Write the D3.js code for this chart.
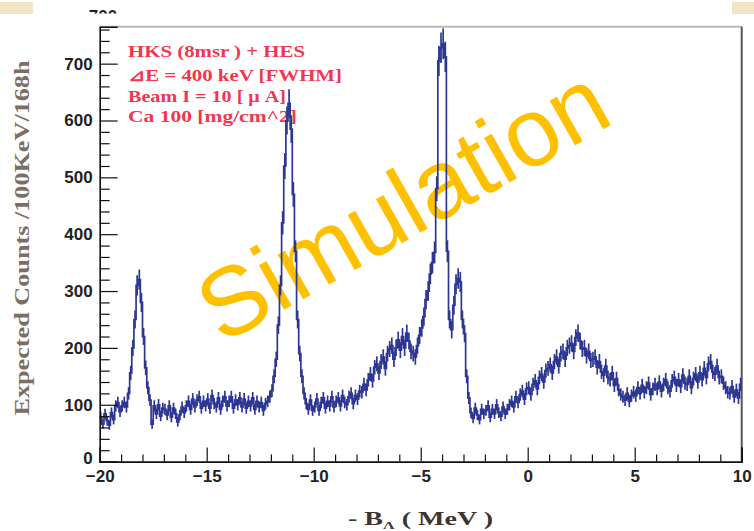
<!DOCTYPE html>
<html><head><meta charset="utf-8">
<script src="https://cdn.jsdelivr.net/npm/d3@7"></script>
<style>body{margin:0;background:#fff}svg{display:block}</style>
</head><body>
<script>
// ---- data ----
const binStart = -20;      // MeV
const binWidth = 0.1;      // MeV (100 keV bins)
const counts = [
  78, 66, 84, 72, 64, 86, 74, 98, 104, 88,
  98, 104, 96, 120, 156, 200, 250, 310, 320, 280,
  220, 165, 130, 108, 66, 98, 84, 100, 80, 94,
  92, 82, 98, 78, 94, 84, 70, 82, 96, 86,
  98, 106, 92, 110, 96, 108, 114, 94, 106, 98,
  110, 94, 116, 102, 96, 112, 92, 106, 114, 98,
  106, 114, 94, 108, 100, 112, 96, 110, 94, 106,
  98, 112, 92, 106, 96, 104, 90, 102, 106, 114,
  125, 150, 180, 240, 310, 420, 520, 600, 630, 585,
  470, 370, 250, 190, 150, 120, 102, 92, 108, 90,
  96, 110, 90, 104, 112, 94, 106, 98, 114, 96,
  106, 112, 98, 116, 104, 100, 114, 120, 102, 116,
  110, 124, 122, 136, 126, 144, 154, 142, 166, 172,
  156, 176, 184, 164, 190, 198, 204, 180, 200, 214,
  196, 220, 200, 226, 212, 194, 190, 184, 204, 222,
  235, 255, 285, 300, 330, 350, 368, 480, 705, 728,
  735, 712, 370, 250, 232, 275, 312, 322, 316, 250,
  225, 150, 112, 86, 76, 94, 82, 74, 92, 84,
  90, 98, 78, 92, 84, 100, 86, 80, 96, 84,
  92, 100, 106, 96, 114, 104, 118, 124, 110, 128,
  130, 118, 136, 142, 128, 148, 154, 140, 160, 164,
  170, 156, 176, 184, 168, 190, 194, 180, 200, 204,
  208, 194, 218, 226, 212, 198, 200, 186, 194, 178,
  180, 184, 166, 176, 158, 152, 168, 148, 144, 156,
  134, 146, 126, 118, 114, 108, 120, 106, 116, 122,
  116, 130, 120, 134, 122, 130, 138, 118, 128, 136,
  128, 140, 124, 136, 144, 130, 124, 142, 148, 134,
  144, 132, 152, 138, 136, 150, 130, 146, 154, 140,
  156, 144, 164, 148, 172, 176, 158, 154, 168, 148,
  150, 138, 130, 122, 120, 132, 114, 126, 112, 136
];
const xDomain = [-20, 10];
const yDomain = [0, 765];
const xMajorTicks = [-20, -15, -10, -5, 0, 5, 10];
const yMajorTicks = [0, 100, 200, 300, 400, 500, 600, 700];
const legendLines = ["HKS (8msr ) + HES", "\u22BFE = 400 keV [FWHM]", "Beam I = 10 [ \u03BC A]", "Ca 100 [mg/cm^2]"];
const yTitle = "Expected Counts  /100KeV/168h";
const watermark = "Simulation";

// ---- layout ----
const W = 754, H = 531;
const L = 99.7, R = 741.7, T = 26.7, B = 461.6;

const svg = d3.select("body").append("svg").attr("width", W).attr("height", H);

const x = d3.scaleLinear().domain(xDomain).range([L, R]);
const y = d3.scaleLinear().domain(yDomain).range([B, T]);

// decorative beige corners
svg.append("rect").attr("x", 0).attr("y", 2).attr("width", 33).attr("height", 12).attr("fill", "#f1e4c3");
svg.append("rect").attr("x", 732).attr("y", 2).attr("width", 22).attr("height", 12).attr("fill", "#f1e4c3");

// clipped stray label at very top
svg.append("clipPath").attr("id", "topclip").append("rect").attr("x", 80).attr("y", 0).attr("width", 50).attr("height", 13.5);
svg.append("text").attr("x", 103).attr("y", 22).attr("text-anchor", "middle")
  .attr("font-family", "Liberation Sans, Arial, sans-serif").attr("font-weight", "bold").attr("font-size", 17)
  .attr("fill", "#222").attr("clip-path", "url(#topclip)").text("700");

// frame (top / right)
svg.append("line").attr("x1", L).attr("x2", R).attr("y1", T).attr("y2", T).attr("stroke", "#b8b8b8").attr("stroke-width", 2);
svg.append("line").attr("x1", R).attr("x2", R).attr("y1", T).attr("y2", B).attr("stroke", "#555").attr("stroke-width", 2);

// watermark
svg.append("text")
  .attr("transform", "translate(402,203) rotate(-29.5)")
  .attr("text-anchor", "middle").attr("dy", "0.36em")
  .attr("font-family", "Liberation Sans, Arial, sans-serif").attr("font-size", 97)
  .attr("fill", "#ffc000").text(watermark);

// legend text
const legBase = [57.3, 81, 101.7, 122];
const legLen = [177, 214, 158, 169];
svg.append("g").selectAll("text").data(legendLines).join("text")
  .attr("x", 128).attr("y", (d, i) => legBase[i])
  .attr("textLength", (d, i) => legLen[i]).attr("lengthAdjust", "spacingAndGlyphs")
  .attr("font-family", "Liberation Serif, Times New Roman, serif").attr("font-weight", "bold").attr("font-size", 17)
  .attr("fill", "#f2364e").text(d => d);

// histogram
const bins = counts.map((c, i) => ({x0: binStart + i * binWidth, x1: binStart + (i + 1) * binWidth, c}));
const pts = [];
bins.forEach(b => { pts.push([b.x0, b.c]); pts.push([b.x1, b.c]); });
const line = d3.line().x(d => x(d[0])).y(d => y(d[1]));
const hcol = "#2d3793";
svg.append("path").attr("d", line(pts)).attr("fill", "none").attr("stroke", hcol).attr("stroke-width", 1.7);
svg.append("g").selectAll("line").data(bins).join("line")
  .attr("x1", d => x((d.x0 + d.x1) / 2)).attr("x2", d => x((d.x0 + d.x1) / 2))
  .attr("y1", d => y(d.c - Math.sqrt(d.c))).attr("y2", d => y(d.c + Math.sqrt(d.c)))
  .attr("stroke", hcol).attr("stroke-width", 1.7);

// axes
const tickFont = g => g.selectAll("text")
  .attr("font-family", "Liberation Sans, Arial, sans-serif").attr("font-weight", "bold")
  .attr("font-size", 17).attr("fill", "#222");

const yMinor = d3.range(0, 761, 20).filter(v => v % 100 !== 0);
svg.append("g").attr("transform", `translate(${L},0)`)
  .call(d3.axisLeft(y).tickValues(yMinor).tickSize(-10).tickFormat(""))
  .call(g => g.select(".domain").remove())
  .call(g => g.selectAll("line").attr("stroke", "#111").attr("stroke-width", 1.2));
svg.append("g").attr("transform", `translate(${L},0)`)
  .call(d3.axisLeft(y).tickValues(yMajorTicks).tickSize(-18).tickPadding(7).tickFormat(d3.format("d")))
  .call(g => g.select(".domain").attr("stroke", "#111").attr("stroke-width", 1.6))
  .call(g => g.selectAll("line").attr("stroke", "#111").attr("stroke-width", 1.2))
  .call(tickFont)
  .call(g => g.selectAll(".tick").filter(d => d === 0).select("text").attr("dy", "0.1em"));

const xMinor = d3.range(-20, 10.01, 1).filter(v => v % 5 !== 0);
svg.append("g").attr("transform", `translate(0,${B})`)
  .call(d3.axisBottom(x).tickValues(xMinor).tickSize(-7).tickFormat(""))
  .call(g => g.select(".domain").remove())
  .call(g => g.selectAll("line").attr("stroke", "#111").attr("stroke-width", 1.2));
svg.append("g").attr("transform", `translate(0,${B})`)
  .call(d3.axisBottom(x).tickValues(xMajorTicks).tickSize(-14).tickPadding(8).tickFormat(d3.format("d")))
  .call(g => g.select(".domain").attr("stroke", "#111").attr("stroke-width", 1.6))
  .call(g => g.selectAll("line").attr("stroke", "#111").attr("stroke-width", 1.2))
  .call(tickFont);

// axis titles
svg.append("text")
  .attr("transform", "translate(29,238) rotate(-90)")
  .attr("text-anchor", "middle").attr("textLength", 355).attr("lengthAdjust", "spacingAndGlyphs")
  .attr("font-family", "Liberation Serif, Times New Roman, serif").attr("font-weight", "bold").attr("font-size", 20)
  .attr("fill", "#7d6e64").text(yTitle);

const xt = svg.append("text").attr("x", 348).attr("y", 525)
  .attr("textLength", 145).attr("lengthAdjust", "spacingAndGlyphs")
  .attr("font-family", "Liberation Serif, Times New Roman, serif").attr("font-weight", "bold").attr("font-size", 19)
  .attr("fill", "#3e3430");
xt.append("tspan").text("- B");
xt.append("tspan").attr("font-size", 11).attr("dy", 4).text("\u039B");
xt.append("tspan").attr("dy", -4).text(" ( MeV )");
</script>
</body></html>
